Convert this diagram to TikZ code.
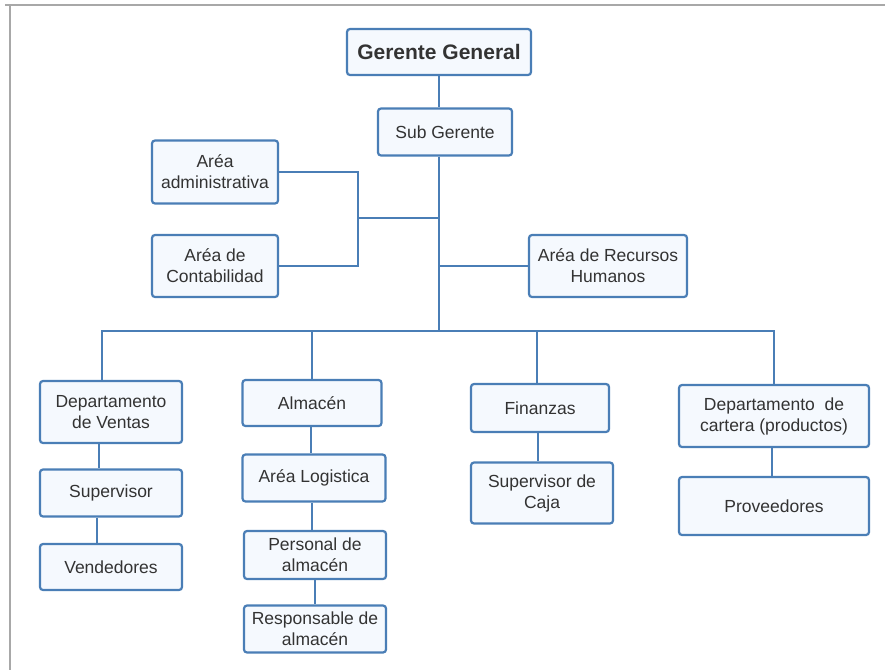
\documentclass[tikz,border=0pt]{standalone}
\usepackage{fontspec}
\setmainfont{Liberation Sans}
\definecolor{bl}{HTML}{4A7EB6}
\definecolor{fl}{HTML}{F5F9FE}
\definecolor{tx}{HTML}{333333}
\definecolor{fr}{HTML}{A8A8A8}
\begin{document}
\begin{tikzpicture}[x=1pt,y=-1pt,
  box/.style={draw=bl, line width=2.2pt, fill=fl, rounded corners=3pt, align=center,
    text=tx, font=\fontsize{17.5}{21}\selectfont, inner sep=0pt},
  conn/.style={draw=bl, line width=2.5pt},
  frame/.style={draw=fr, line width=1.8pt}]
\useasboundingbox (0,0) rectangle (885,670);
\draw[frame] (5,5) -- (885,5);
\draw[frame] (10,5) -- (10,670);

\node[box, minimum width=184, minimum height=46, font=\fontsize{21}{24}\selectfont\bfseries] (gg) at (439,52) {Gerente General};
\node[box, minimum width=134, minimum height=47] (sg) at (445,132) {Sub Gerente};
\node[box, minimum width=126, minimum height=63] (adm) at (215,172) {Aréa\\administrativa};
\node[box, minimum width=126, minimum height=62] (cont) at (215,266) {Aréa de\\Contabilidad};
\node[box, minimum width=158, minimum height=62] (rh) at (608,266) {Aréa de Recursos\\Humanos};

\node[box, minimum width=142, minimum height=62] (ven) at (111,412) {Departamento\\de Ventas};
\node[box, minimum width=142, minimum height=47] (sup) at (111,493) {Supervisor};
\node[box, minimum width=142, minimum height=46] (vend) at (111,567) {Vendedores};

\node[box, minimum width=139, minimum height=46] (alm) at (312,403) {Almacén};
\node[box, minimum width=143, minimum height=47] (log) at (314,478) {Aréa Logistica};
\node[box, minimum width=142, minimum height=48] (per) at (315,555) {Personal de\\almacén};
\node[box, minimum width=142, minimum height=47] (res) at (315,629) {Responsable de\\almacén};

\node[box, minimum width=138, minimum height=48] (fin) at (540,408) {Finanzas};
\node[box, minimum width=142, minimum height=61] (caja) at (542,493) {Supervisor de\\Caja};

\node[box, minimum width=190, minimum height=62] (car) at (774,416) {Departamento\ \ de\\cartera (productos)};
\node[box, minimum width=190, minimum height=58] (prov) at (774,506) {Proveedores};

\coordinate (j1) at (358,218);
\coordinate (bar) at (439,331);

\draw[conn] (gg.south) -- (gg.south |- sg.north);
\draw[conn] (bar |- sg.south) -- (bar);
\draw[conn] (adm.east) -| (j1) |- (cont.east);
\draw[conn] (j1) -- (bar |- j1);
\draw[conn] (bar |- rh.west) -- (rh.west);
\draw[conn] ([xshift=-9pt]ven.north) |- (bar) -| (car.north);
\draw[conn] (alm.north) -- (alm.north |- bar);
\draw[conn] ([xshift=-3pt]fin.north) -- ([xshift=-3pt]fin.north |- bar);

\draw[conn] ([xshift=-12pt]ven.south) -- ([xshift=-12pt]ven.south |- sup.north);
\draw[conn] ([xshift=-14pt]sup.south) -- ([xshift=-14pt]sup.south |- vend.north);
\draw[conn] ([xshift=-1pt]alm.south) -- ([xshift=-1pt]alm.south |- log.north);
\draw[conn] ([xshift=-2pt]log.south) -- ([xshift=-2pt]log.south |- per.north);
\draw[conn] (per.south) -- (per.south |- res.north);
\draw[conn] ([xshift=-2pt]fin.south) -- ([xshift=-2pt]fin.south |- caja.north);
\draw[conn] ([xshift=-2pt]car.south) -- ([xshift=-2pt]car.south |- prov.north);
\end{tikzpicture}
\end{document}
